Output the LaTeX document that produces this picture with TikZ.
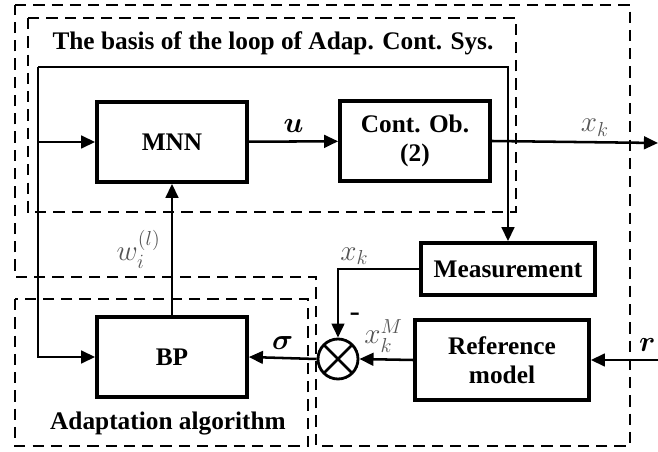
\documentclass[tikz,border=0pt]{standalone}
\usepackage{amsmath,bm}
\usepackage{fontspec}
\setmainfont{Liberation Serif}
\usetikzlibrary{arrows.meta,positioning,calc,shadows}
\definecolor{lblgray}{HTML}{555555}

\begin{document}
\begin{tikzpicture}[
    x=0.025cm, y=-0.025cm,
    blk/.style={draw, line width=2.6pt, fill=white, align=center,
                minimum width=#1, font=\fontsize{18}{21}\selectfont\bfseries,
                drop shadow={shadow xshift=1.2pt, shadow yshift=-1.2pt, opacity=0.3}},
    blk/.default=3.75cm,
    sumnode/.style={circle, draw, line width=2pt, fill=white, minimum size=1cm,
                path picture={\draw[line width=2pt]
                  (path picture bounding box.north west) -- (path picture bounding box.south east)
                  (path picture bounding box.north east) -- (path picture bounding box.south west);}},
    arr/.style={-{Triangle[length=10pt,width=9pt]}, line width=1.8pt},
    dsh/.style={dashed, dash pattern=on 8pt off 5pt, line width=2pt},
    ttl/.style={font=\fontsize{18}{21}\selectfont\bfseries},
    mlbl/.style={font=\fontsize{22}{24}\selectfont, lblgray},
    blbl/.style={font=\fontsize{22}{24}\selectfont}
  ]
    \useasboundingbox (0,0) rectangle (658,452);

    % === Dashed regions ===
    \draw[dsh] (15,5) -- (630,5) -- (630,446) -- (316,446) -- (316,277)
      -- (15,277) -- cycle;
    \draw[dsh] (28,18) rectangle (516,212);
    \draw[dsh] (15,299) rectangle (308,446);

    \node[ttl] (basis) at (273,43) {The basis of the loop of Adap. Cont. Sys.};
    \node[ttl] (adapt) at (168,424) {Adaptation algorithm};

    % === Blocks ===
    \node[blk, minimum height=2cm] (mnn) at (172,142) {MNN};
    \node[blk, minimum height=2cm] (plant) at (415,141) {Cont. Ob.\\(2)};
    \node[blk=4.35cm, minimum height=1.3cm] (meas) at (508,269) {Measurement};
    \node[blk=4.35cm, minimum height=2cm] (refm) at (502,360) {Reference\\model};
    \node[blk, minimum height=2cm] (bp) at (172,357) {BP};
    \node[sumnode] (sum) at (338,359) {};

    \coordinate (lt) at (38,67);
    \coordinate (xout) at (658,143);
    \coordinate (rin) at (658,360);

    % === Main loop ===
    \draw[arr] (lt |- mnn.west) -- (mnn.west);
    \draw[arr] (mnn) -- (plant)
      node[midway, above=2pt, blbl] {$\bm{u}$};
    \draw[arr] (plant.east) -- (xout)
      node[pos=0.62, above=0pt, mlbl] {$x_k$};
    \draw[arr] (lt) -| (meas.north);
    \draw[arr] (lt) |- (bp.west);

    % === Error path ===
    \draw[arr] (meas.west) -| (sum.north)
      node[pos=0.4, above=-1pt, mlbl] {$x_k$}
      node[pos=0.85, right=4pt, blbl] {-};
    \draw[arr] (refm.west) -- (sum.east)
      node[pos=0.55, above=1pt, mlbl] {$x_k^M$};
    \draw[arr] (sum.west) -- (bp.east)
      node[pos=0.5, above=2pt, blbl] {$\bm{\sigma}$};
    \draw[arr] (rin) -- (refm.east)
      node[pos=0.16, above=2pt, blbl] {$\bm{r}$};
    \draw[arr] (bp.north) -- (mnn.south)
      node[midway, left=4pt, mlbl] {$w_i^{(l)}$};
  \end{tikzpicture}
\end{document}
